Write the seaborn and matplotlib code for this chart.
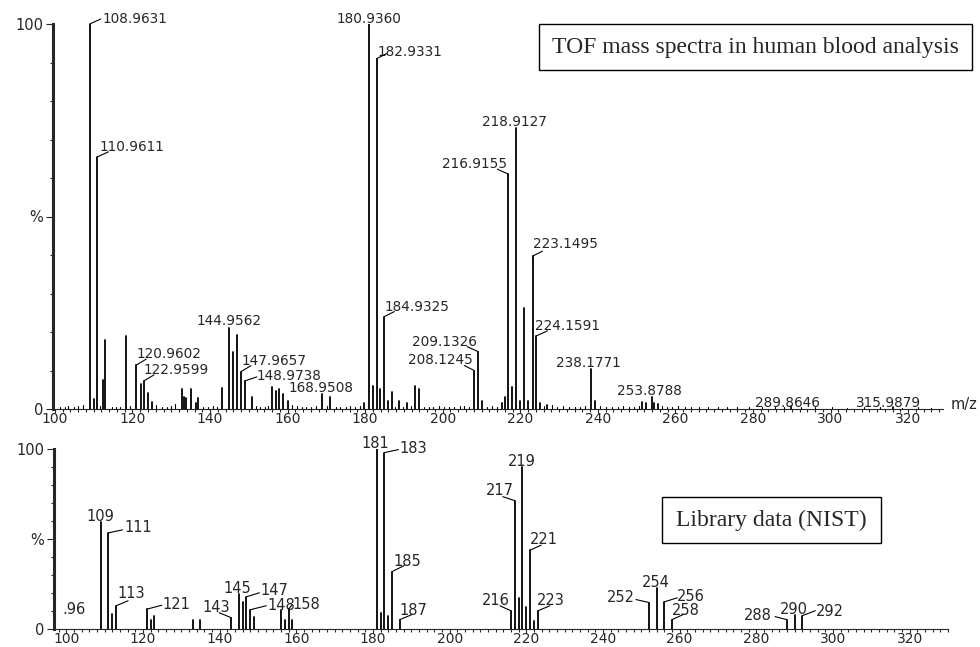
import numpy as np
import pandas as pd
import seaborn as sns
import matplotlib.pyplot as plt
from matplotlib.patches import Rectangle
from matplotlib.ticker import FixedLocator, MultipleLocator

# TOF spectrum of the blood sample (m/z, relative intensity %)
tof_mz = [108.9631, 109.95, 110.9611, 112.4, 113.0, 118.2, 120.9602, 122.3, 122.9599, 123.9, 124.9,
          132.8, 133.2, 133.9, 135.05, 136.3, 136.95, 143.1, 144.9562, 146.0, 146.9, 147.9657, 148.9738,
          150.9, 156.0, 157.0, 157.9, 158.9, 160.0, 168.9508, 171.0, 179.8, 180.9360, 181.9, 182.9331,
          183.9, 184.9325, 185.9, 186.9, 188.6, 190.9, 192.9, 193.9, 208.1245, 209.1326, 210.1, 215.4,
          216.0, 216.9155, 217.9, 218.9127, 219.9, 220.9, 221.9, 223.1495, 224.1591, 225.1, 227.0,
          238.1771, 239.2, 251.5, 252.4, 253.8788, 254.4, 255.4, 289.8646, 315.9879]
tof_int = [100, 2.6, 65.5, 7.5, 18, 19, 11.4, 6.5, 7.3, 4.2, 1.8,
           5.2, 3.0, 2.8, 5.2, 1.5, 2.8, 5.5, 21, 14.8, 19.2, 9.7, 7.3,
           3.0, 5.8, 4.6, 5.1, 4.0, 2.0, 3.9, 3.0, 1.5, 100, 6.0, 91,
           5.2, 24, 2.0, 4.4, 2.0, 1.5, 6.0, 5.2, 10, 14.9, 2.0, 1.5,
           3.0, 61, 5.7, 73, 2.0, 26.3, 2.0, 39.7, 19, 1.5, 1.0,
           10.4, 2.0, 1.8, 1.5, 3.2, 1.5, 1.2, 0.8, 0.5]

# baseline noise of the TOF trace
noise_mz = [101.2, 102.5, 103.4, 104.8, 105.9, 107.2, 111.5, 114.6, 115.8, 116.7, 119.4, 126.1, 127.5,
            128.8, 130.0, 130.9, 138.2, 139.5, 140.7, 141.9, 151.8, 152.9, 154.1, 155.0, 161.1, 162.3,
            163.6, 164.8, 166.0, 167.2, 170.1, 172.4, 173.6, 175.0, 176.2, 177.5, 178.6, 187.8, 189.7,
            191.8, 195.2, 196.4, 197.6, 199.0, 200.4, 201.7, 203.0, 204.4, 205.6, 206.8, 211.3, 212.6,
            214.0, 226.1, 228.2, 229.5, 231.0, 232.6, 234.1, 235.5, 236.8, 240.5, 242.0, 243.6, 245.1,
            246.5, 248.0, 249.4, 250.6, 256.6, 257.8, 259.2, 260.6, 262.4, 264.0, 266.2, 268.5, 271.0,
            273.4, 276.0, 279.1, 282.3, 285.6, 288.0, 292.4, 296.1, 300.3, 304.2, 308.5, 312.7, 318.4,
            322.6, 326.0]
noise_int = [0.6, 0.4, 0.8, 0.5, 0.7, 1.0, 0.8, 0.5, 0.4, 0.6, 0.9, 1.0, 0.5,
             0.4, 0.7, 1.2, 0.5, 0.6, 0.8, 0.4, 0.9, 0.6, 0.5, 0.8, 1.0, 0.7,
             0.5, 0.6, 0.4, 0.7, 0.9, 0.5, 0.6, 0.4, 0.7, 0.5, 0.8, 0.6, 0.5,
             0.7, 0.4, 0.6, 0.5, 0.8, 0.4, 0.6, 0.5, 0.7, 0.9, 0.6, 0.5, 0.7,
             0.6, 0.8, 1.0, 0.5, 0.7, 0.4, 0.6, 0.5, 0.8, 0.7, 0.4, 0.6, 0.5,
             0.7, 0.4, 0.6, 0.8, 0.9, 0.6, 0.5, 0.7, 0.4, 0.6, 0.5, 0.4, 0.6,
             0.4, 0.5, 0.4, 0.6, 0.4, 0.5, 0.4, 0.5, 0.4, 0.3, 0.5, 0.4, 0.3,
             0.4, 0.3]

# NIST library spectrum
nist_mz = [109, 111, 112, 113, 121, 122, 123, 133, 135, 143, 145, 146, 147, 148, 149, 156, 157, 158, 159,
           181, 182, 183, 184, 185, 187, 216, 217, 218, 219, 220, 221, 222, 223, 252, 254, 256, 258,
           288, 290, 292]
nist_int = [59.3, 53.4, 8.3, 12.9, 11.0, 5.2, 7.0, 5.0, 5.0, 6.3, 19.3, 15.0, 17.9, 10.7, 6.4, 10.7, 5.2,
            11.0, 5.0, 100, 8.8, 98.0, 7.4, 31.9, 5.2, 10.1, 71.3, 17.5, 89.9, 12.3, 43.8, 4.6, 10.1,
            14.7, 22.7, 15.1, 5.2, 5.2, 7.7, 7.4]

tof_labels = [108.9631, 110.9611, 120.9602, 122.9599, 144.9562, 147.9657, 148.9738, 168.9508, 180.9360,
              182.9331, 184.9325, 208.1245, 209.1326, 216.9155, 218.9127, 223.1495, 224.1591, 238.1771,
              253.8788, 289.8646, 315.9879]
nist_labels = [109, 111, 113, 121, 143, 145, 147, 148, 158, 181, 183, 185, 187, 216, 217, 219, 221, 223,
               252, 254, 256, 258, 288, 290, 292]

# label placement in pixels from the peak top: (ha, dx, dy, leader end) -- layout only
tof_place = [('left', 13, 5, (11, 5)), ('left', 2, 10, (11, 5)), ('left', 0, 11, (10, 6)),
             ('left', 0, 11, (10, 6)), ('center', 0, 7, None), ('left', 1, 11, (10, 6)),
             ('left', 12, 5, (12, 4)), ('center', -1, 6, None), ('center', 0, 5, None),
             ('left', 1, 7, (10, 5)), ('left', 0, 10, (10, 5)), ('right', -1, 10, (-10, 5)),
             ('right', -1, 10, (-11, 5)), ('right', -1, 10, (-11, 5)), ('center', -2, 6, None),
             ('left', 0, 12, (10, 5)), ('left', -1, 10, (11, 5)), ('center', -2, 6, None),
             ('center', -2, 6, None), ('center', -4, 3, None), ('center', -4, 4, None)]
nist_place = [('center', 0, 6, None), ('left', 16, 5, (14, 3)), ('left', 1, 12, (12, 5)),
              ('left', 16, 5, (15, 4)), ('right', -1, 10, (-12, 5)), ('center', -1, 6, None),
              ('left', 14, 6, (13, 4)), ('left', 17, 4, (16, 4)), ('left', 4, 5, (3, 4)),
              ('center', -1, 6, None), ('left', 15, 4, (14, 3)), ('left', 1, 10, (12, 6)),
              ('left', 0, 9, (12, 5)), ('right', -1, 10, (-11, 5)), ('right', -1, 10, (-12, 4)),
              ('center', -1, 6, None), ('left', 0, 11, (11, 5)), ('left', -1, 10, (12, 5)),
              ('right', -14, 5, (-13, 3)), ('center', -1, 6, None), ('left', 13, 5, (13, 4)),
              ('left', 0, 9, (11, 5)), ('right', -15, 4, (-12, 3)), ('center', -1, 6, None),
              ('left', 14, 4, (13, 5))]


def stems(mz, inten):
    # each peak becomes a vertical segment from 0 to its intensity
    return pd.DataFrame({'mz': np.repeat(mz, 2),
                         'int': np.ravel([[0, h] for h in inten]),
                         'peak': np.repeat(np.arange(len(mz)), 2)})


def style_axis(ax, x0, x1):
    ax.set_xlim(x0, x1)
    ax.set_ylim(0, 100)
    sns.despine(ax=ax)
    ax.spines['left'].set_linewidth(2.2)
    ax.spines['bottom'].set_linewidth(0.8)
    ax.yaxis.set_major_locator(FixedLocator([0, 50, 100]))
    ax.set_yticklabels(['0', '%', '100'])
    ax.yaxis.set_minor_locator(MultipleLocator(10))
    ax.xaxis.set_major_locator(MultipleLocator(20))
    ax.xaxis.set_minor_locator(MultipleLocator(2))
    ax.tick_params(axis='y', which='major', length=5, width=0.8, pad=2, labelsize=10.5)
    ax.tick_params(axis='y', which='minor', length=2.5, width=0.8)
    ax.tick_params(axis='x', which='major', length=3, width=0.8, pad=-1, labelsize=10)
    ax.tick_params(axis='x', which='minor', length=2, width=0.8)
    ax.set_xlabel('')
    ax.set_ylabel('')


def label_peaks(ax, labels, heights, place, fmt, size):
    for mz, (ha, dx, dy, lead) in zip(labels, place):
        h = heights[mz]
        ax.annotate(fmt.format(mz), xy=(mz, h), xytext=(dx, dy), textcoords='offset pixels',
                    ha=ha, va='center', fontsize=size, annotation_clip=False)
        if lead is not None:
            ax.annotate('', xy=(mz, h), xytext=lead, textcoords='offset pixels', annotation_clip=False,
                        arrowprops=dict(arrowstyle='-', lw=0.8, color='black', shrinkA=0, shrinkB=0))


sns.set_style('ticks')
plt.rcParams['font.family'] = ['DejaVu Sans']

fig = plt.figure(figsize=(9.8, 6.47), dpi=100)
ax1 = fig.add_axes([53 / 980, 1 - 409 / 647, 890 / 980, 385 / 647])
ax2 = fig.add_axes([54 / 980, 1 - 629 / 647, 894 / 980, 180 / 647])

sns.lineplot(data=stems(noise_mz, noise_int), x='mz', y='int', units='peak', estimator=None,
             color='black', lw=0.8, ax=ax1, legend=False)
sns.lineplot(data=stems(tof_mz, tof_int), x='mz', y='int', units='peak', estimator=None,
             color='black', lw=1.3, ax=ax1, legend=False)
sns.lineplot(data=stems(nist_mz, nist_int), x='mz', y='int', units='peak', estimator=None,
             color='black', lw=1.3, ax=ax2, legend=False)

style_axis(ax1, 99.5, 329)
style_axis(ax2, 96.8, 330)

label_peaks(ax1, tof_labels, dict(zip(tof_mz, tof_int)), tof_place, '{:.4f}', 9.8)
label_peaks(ax2, nist_labels, dict(zip(nist_mz, nist_int)), nist_place, '{:d}', 10.5)
ax2.text(102.1, 11, '.96', ha='center', va='center', fontsize=10.5)

fig.text(951 / 980, 1 - 405 / 647, 'm/z', ha='left', va='center', fontsize=10.5)

# title boxes
fig.patches.append(Rectangle((539 / 980, 1 - 70 / 647), 433 / 980, 46 / 647, transform=fig.transFigure,
                             fill=False, ec='black', lw=1))
fig.text(755.5 / 980, 1 - 47 / 647, 'TOF mass spectra in human blood analysis', ha='center', va='center',
         family='Liberation Serif', fontsize=17)
fig.patches.append(Rectangle((661.7 / 980, 1 - 543.3 / 647), 219 / 980, 46 / 647, transform=fig.transFigure,
                             fill=False, ec='black', lw=1))
fig.text(771 / 980, 1 - 520 / 647, 'Library data (NIST)', ha='center', va='center',
         family='Liberation Serif', fontsize=17)

fig.savefig('out.png', dpi=100)
